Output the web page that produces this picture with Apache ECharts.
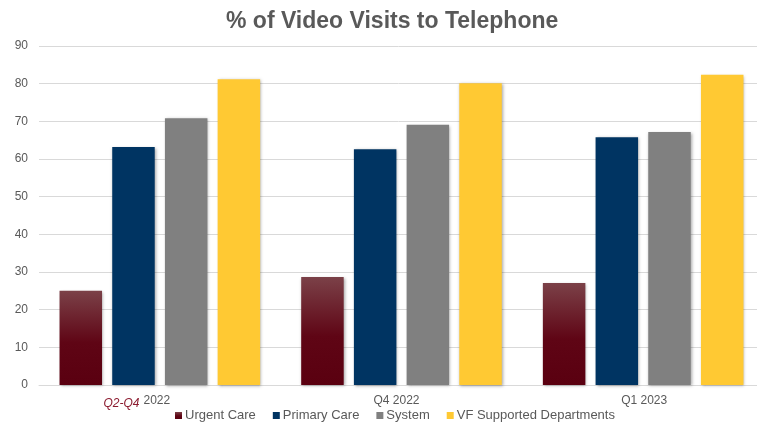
<!DOCTYPE html>
<html>
<head>
<meta charset="utf-8">
<script src="https://cdn.jsdelivr.net/npm/echarts@6/dist/echarts.min.js"></script>
<style>
  html, body { margin: 0; padding: 0; background: #fff; }
  #chart { width: 757px; height: 422px; }
</style>
</head>
<body>
<div id="chart"></div>
<script type="text/javascript">
    var categories = ['Q2-Q4 2022', 'Q4 2022', 'Q1 2023'];
    var urgentCare = [25.0, 28.7, 27.1];
    var primaryCare = [63.2, 62.6, 65.8];
    var systemAll = [70.8, 69.1, 67.2];
    var vfSupported = [81.2, 80.1, 82.4];
    var yTicks = [0, 90, 10];

    var font = '"Liberation Sans Narrow", "Arial Narrow", "Liberation Sans", Arial, sans-serif';
    var shadow = { shadowBlur: 3, shadowColor: 'rgba(0,0,0,0.35)', shadowOffsetX: 1, shadowOffsetY: 1 };

    function bar(name, data, color) {
        return {
            name: name,
            type: 'bar',
            data: data,
            barWidth: 42.5,
            barGap: '24%',
            itemStyle: Object.assign({ color: color }, shadow)
        };
    }

    var myChart = echarts.init(document.getElementById('chart'));
    var option = {
        animation: false,
        textStyle: { fontFamily: font },
        title: {
            text: '% of Video Visits to Telephone',
            left: 221,
            top: 5,
            textStyle: { color: '#595959', fontSize: 23, fontWeight: 'bold', fontFamily: font }
        },
        legend: {
            top: 404,
            left: 170,
            icon: 'rect',
            itemWidth: 7,
            itemHeight: 7,
            itemGap: 17,
            textStyle: { color: '#595959', fontSize: 13, fontFamily: font, padding: [0, 0, 0, -2] },
            data: ['Urgent Care', 'Primary Care', 'System', 'VF Supported Departments']
        },
        grid: { left: 39, right: -7, top: 46, bottom: 37, outerBoundsMode: 'none' },
        xAxis: {
            type: 'category',
            data: categories,
            axisTick: { show: false },
            axisLine: { lineStyle: { color: '#d9d9d9' } },
            axisLabel: {
                color: '#595959',
                fontSize: 12,
                fontFamily: font,
                margin: 10,
                formatter: function (v, i) {
                    if (i === 0) return '{a|Q2-Q4}{b|2022}';
                    if (i === 1) return '{c|' + v + '}';
                    return '{d|' + v + '}';
                },
                rich: {
                    a: { color: '#8b1a2e', fontStyle: 'italic', fontSize: 12, fontFamily: font, padding: [3, 4, 0, 0], verticalAlign: 'bottom' },
                    b: { color: '#595959', fontSize: 12, fontFamily: font, padding: [0, 46, 0, 0], verticalAlign: 'top' },
                    c: { color: '#595959', fontSize: 12, fontFamily: font, padding: [0, 10, 0, 0] },
                    d: { color: '#595959', fontSize: 12, fontFamily: font, padding: [0, 0, 0, 2] }
                }
            }
        },
        yAxis: {
            type: 'value',
            min: yTicks[0],
            max: yTicks[1],
            interval: yTicks[2],
            axisLine: { show: false },
            axisTick: { show: false },
            splitLine: { lineStyle: { color: '#d9d9d9' } },
            axisLabel: { color: '#595959', fontSize: 12, fontFamily: font, margin: 11 }
        },
        series: [
            bar('Urgent Care', urgentCare, new echarts.graphic.LinearGradient(0, 0, 0, 1, [
                { offset: 0, color: '#7b4148' },
                { offset: 0.55, color: '#5f0515' },
                { offset: 1, color: '#5a0010' }
            ])),
            bar('Primary Care', primaryCare, '#003462'),
            bar('System', systemAll, '#808080'),
            bar('VF Supported Departments', vfSupported, '#ffc933')
        ]
    };
    myChart.setOption(option);
</script>
</body>
</html>
